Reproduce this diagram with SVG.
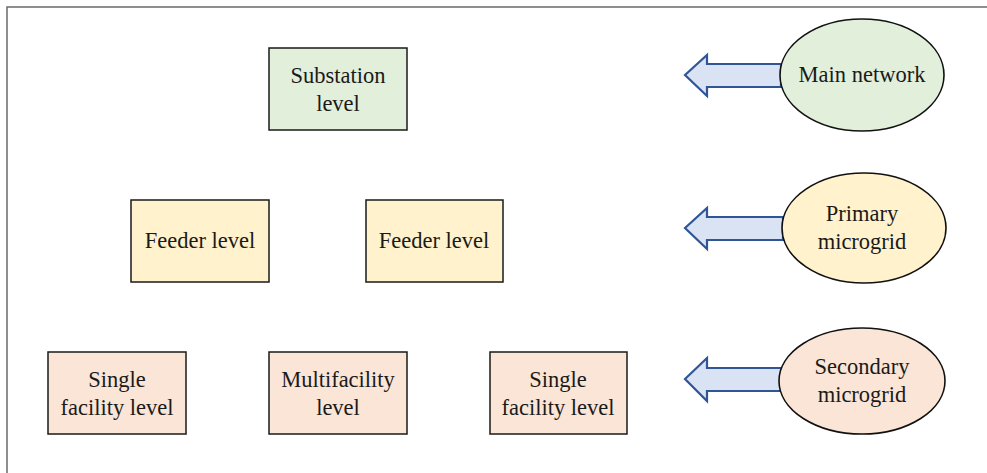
<svg xmlns="http://www.w3.org/2000/svg" width="987" height="473" viewBox="0 0 987 473">
<style>
.frame{fill:none;stroke:#6b6b6b;stroke-width:1.5}
.box{stroke:#1a1a1a;stroke-width:1.5}
.ell{stroke:#111;stroke-width:1.6}
.g{fill:#e2efda}
.y{fill:#fff2cc}
.p{fill:#fbe5d6}
.arr{fill:#dae3f3;stroke:#2f5597;stroke-width:2.2;stroke-linejoin:miter}
text{font-family:'Liberation Serif','Times New Roman',Times,'DejaVu Serif',serif;font-size:22.5px;fill:#1a1a1a;text-anchor:middle}
</style>
<polyline class="frame" points="7,473 7,7 987,7"/>
<g id="substation"><rect class="box g" x="269" y="48" width="138" height="82"/><text x="338" y="83">Substation</text><text x="338" y="111">level</text></g>
<g id="feeder1"><rect class="box y" x="131" y="200" width="138" height="82"/><text x="200" y="248">Feeder level</text></g>
<g id="feeder2"><rect class="box y" x="366" y="200" width="137" height="82"/><text x="434" y="248">Feeder level</text></g>
<g id="single1"><rect class="box p" x="48" y="352" width="138" height="82"/><text x="117" y="387">Single</text><text x="117" y="415">facility level</text></g>
<g id="multi"><rect class="box p" x="269" y="352" width="138" height="82"/><text x="338" y="387">Multifacility</text><text x="338" y="415">level</text></g>
<g id="single2"><rect class="box p" x="490" y="352" width="137" height="82"/><text x="558" y="387">Single</text><text x="558" y="415">facility level</text></g>
<g id="connectors">
<polygon class="arr" points="685,75 707,55 707,64 781,64 781,87 707,87 707,96"/>
<polygon class="arr" points="685,228 707,208 707,217 783,217 783,240 707,240 707,249"/>
<polygon class="arr" points="685,379 707,358 707,368 781,368 781,391 707,391 707,401"/>
</g>
<g id="main"><ellipse class="ell g" cx="862" cy="75" rx="82" ry="56"/><text x="862" y="82">Main network</text></g>
<g id="primary"><ellipse class="ell y" cx="864" cy="228" rx="82" ry="55"/><text x="862" y="221">Primary</text><text x="862" y="249">microgrid</text></g>
<g id="secondary"><ellipse class="ell p" cx="862" cy="381" rx="83" ry="53"/><text x="862" y="374">Secondary</text><text x="862" y="402">microgrid</text></g>
</svg>
